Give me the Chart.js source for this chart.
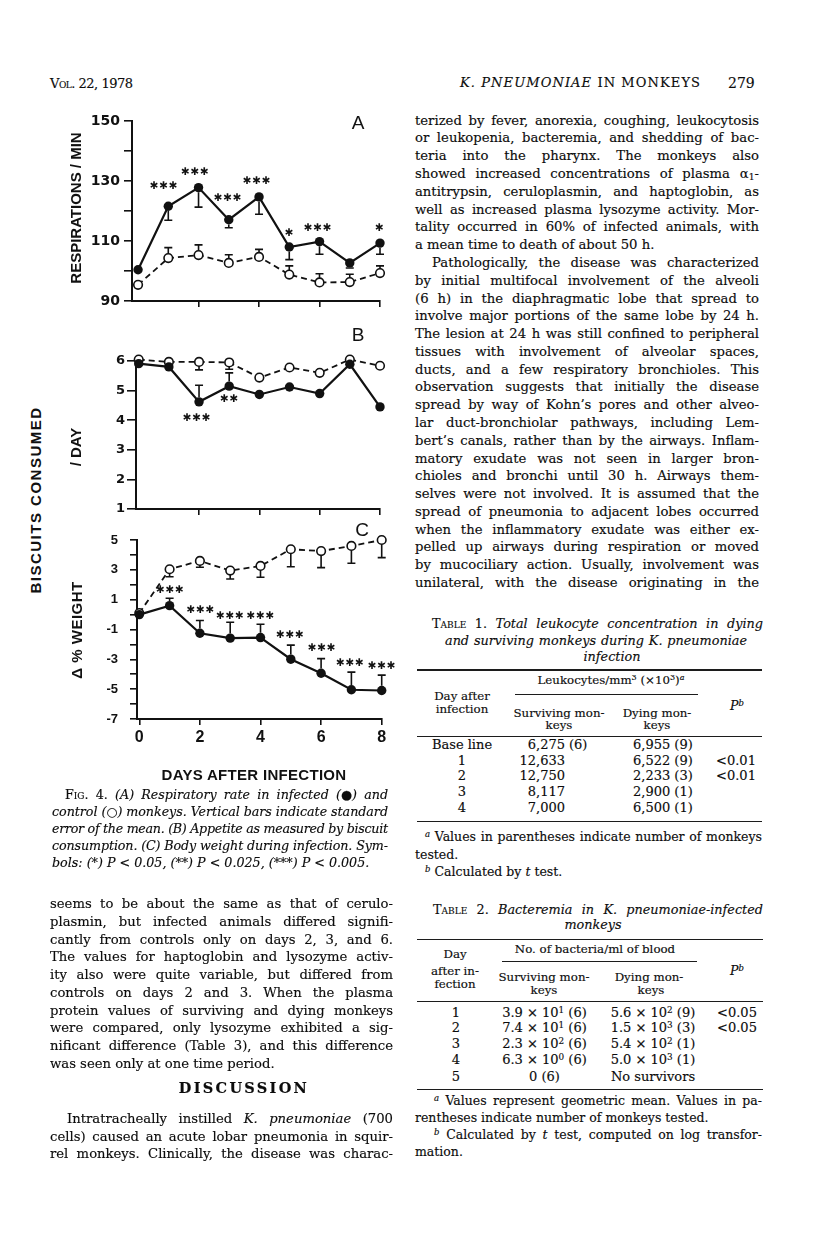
<!DOCTYPE html>
<html><head><meta charset="utf-8">
<script src="https://cdn.jsdelivr.net/npm/chart.js@4.4.1/dist/chart.umd.min.js"></script>
<style>
html,body{margin:0;padding:0;background:#fff;}
body{width:816px;height:1253px;position:relative;overflow:hidden;font-family:"DejaVu Serif",serif;color:#0c0c0c;}
.t{position:absolute;white-space:nowrap;font-size:12.5px;line-height:16px;display:inline-block;-webkit-text-stroke:0.15px #0c0c0c;}
.sc{font-variant:small-caps;}
.it{font-style:italic;}
.up{font-style:normal;}
canvas{position:absolute;}
.ax{position:absolute;font-family:"Liberation Sans",Arial,sans-serif;font-weight:bold;font-size:15px;white-space:nowrap;line-height:16px;color:#111;}
.rot{transform:translate(-50%,-50%) rotate(-90deg);}
.ctr{transform:translate(-50%,-50%);}
.pl{position:absolute;font-family:"Liberation Sans",Arial,sans-serif;font-size:19px;line-height:20px;color:#111;transform:translate(-50%,-50%);}
sup{font-size:0.68em;line-height:0;vertical-align:0.5em;}
.sub{font-size:0.7em;vertical-align:-0.2em;line-height:0;}
.rule{position:absolute;background:#1c1c1c;}
</style></head><body>
<canvas id="cA" width="340" height="215" style="left:60px;top:100px"></canvas>
<canvas id="cB" width="340" height="193" style="left:60px;top:330px"></canvas>
<canvas id="cC" width="340" height="239" style="left:60px;top:520px"></canvas>

<div class="ax rot" style="left:76px;top:208px">RESPIRATIONS&nbsp;/&nbsp;MIN</div>
<div class="ax rot" style="left:36px;top:500px;letter-spacing:1.5px">BISCUITS CONSUMED</div>
<div class="ax rot" style="left:76px;top:447px">/ DAY</div>
<div class="ax rot" style="left:77px;top:630px;letter-spacing:0.5px">Δ % WEIGHT</div>
<div class="ax ctr" style="left:254px;top:775px;letter-spacing:0.3px">DAYS AFTER INFECTION</div>
<div class="pl" style="left:358px;top:123px">A</div>
<div class="pl" style="left:358px;top:335px">B</div>
<div class="pl" style="left:362px;top:530px">C</div>

<script>
// ---------- chart data ----------
const days = [0, 1, 2, 3, 4, 5, 6, 7, 8];

// Panel A: respirations / min
const respInfected    = [100.4, 121.6, 127.8, 117.1, 124.7, 108.0, 109.8, 102.7, 109.3];
const respInfectedSE  = [null, 116.9, 121.3, 114.4, 118.9, 103.8, 105.6, 101.0, 105.6];
const respControl     = [95.4, 104.3, 105.3, 102.7, 104.7, 98.8, 96.2, 96.3, 99.3];
const respControlSE   = [null, 107.8, 108.7, 105.4, 107.2, 101.7, 99.1, 98.9, 101.7];
const respStarX = [0.85, 1.88, 2.96, 3.92, 5.0, 5.94, 7.98];
const respStarY = [128.2, 133.0, 124.3, 129.9, 112.7, 114.4, 114.4];
const respStarN = [3, 3, 3, 3, 1, 3, 1];
const respTicks = [90, 100, 110, 120, 130, 140, 150];
const respLabels = [90, 110, 130, 150];

// Panel B: biscuits consumed / day
const biscInfected   = [5.91, 5.80, 4.62, 5.15, 4.87, 5.12, 4.90, 5.89, 4.45];
const biscInfectedSE = [null, null, 5.18, 5.60, null, null, null, null, null];
const biscControl    = [6.05, 5.97, 5.97, 5.95, 5.44, 5.78, 5.60, 6.05, 5.84];
const biscControlSE  = [null, null, 5.70, 5.72, null, null, null, null, null];
const biscStarX = [1.92, 3.0];
const biscStarY = [4.06, 4.70];
const biscStarN = [3, 2];
const biscTicks = [1, 2, 3, 4, 5, 6];

// Panel C: delta % weight
const wtInfected   = [0.0, 0.6, -1.25, -1.58, -1.54, -2.99, -3.93, -5.04, -5.09];
const wtInfectedSE = [null, 1.09, -0.40, -0.51, -0.65, -2.05, -2.95, -3.86, -4.06];
const wtControl    = [0.1, 3.04, 3.60, 2.95, 3.26, 4.38, 4.26, 4.60, 5.00];
const wtControlSE  = [null, 2.54, 3.17, 2.39, 2.50, 3.21, 3.15, 3.44, 3.82];
const wtStarX = [1.01, 2.02, 2.99, 4.0, 4.97, 6.02, 6.95, 8.0];
const wtStarY = [1.65, 0.27, -0.09, -0.09, -1.40, -2.25, -3.26, -3.48];
const wtStarN = [3, 3, 3, 3, 3, 3, 3, 3];
const wtTicks = [-7, -6, -5, -4, -3, -2, -1, 0, 1, 2, 3, 4, 5];
const wtLabels = [-7, -5, -3, -1, 1, 3, 5];

const dayTicksTop = [2, 4, 6, 8];
const dayTicksBottom = [0, 2, 4, 6, 8];

// ---------- chart drawing ----------
Chart.defaults.font.family = '"DejaVu Sans", sans-serif';
const INK = '#111';

function extras(series, stars) {
  return {
    id: 'extras',
    afterDatasetsDraw(chart) {
      const ctx = chart.ctx, x = chart.scales.x, y = chart.scales.y;
      ctx.save();
      ctx.strokeStyle = INK; ctx.lineWidth = 1.6;
      series.forEach(s => {
        s.se.forEach((end, i) => {
          if (end == null) return;
          const px = x.getPixelForValue(days[i]);
          const p0 = y.getPixelForValue(s.v[i]);
          const p1 = y.getPixelForValue(end);
          const dir = Math.sign(p1 - p0);
          ctx.beginPath();
          ctx.moveTo(px, p0 + dir * s.r);
          ctx.lineTo(px, p1);
          ctx.moveTo(px - 4, p1);
          ctx.lineTo(px + 4, p1);
          ctx.stroke();
        });
      });
      ctx.fillStyle = INK;
      ctx.font = '10.5px "DejaVu Sans"';
      ctx.textAlign = 'center';
      ctx.textBaseline = 'middle';
      stars.x.forEach((sx, i) => {
        const cx = x.getPixelForValue(sx), cy = y.getPixelForValue(stars.y[i]);
        const n = stars.n[i];
        for (let k = 0; k < n; k++) ctx.fillText('\u2731', cx + (k - (n - 1) / 2) * 9.5, cy);
      });
      ctx.restore();
    }
  };
}

function panel(id, c) {
  const pts = arr => days.map((d, i) => ({ x: d, y: arr[i] }));
  return new Chart(document.getElementById(id), {
    type: 'line',
    data: {
      datasets: [
        { data: pts(c.inf), borderColor: INK, borderWidth: 2.2, pointRadius: 4.7,
          pointBackgroundColor: INK, pointBorderColor: INK, pointBorderWidth: 0, clip: false, tension: 0 },
        { data: pts(c.ctl), borderColor: INK, borderWidth: 1.8, borderDash: [6, 4], pointRadius: 4.3,
          pointBackgroundColor: '#fff', pointBorderColor: INK, pointBorderWidth: 1.6, clip: false, tension: 0 }
      ]
    },
    options: {
      responsive: false, animation: false, devicePixelRatio: 1, events: [],
      layout: { padding: c.pad },
      plugins: { legend: { display: false }, tooltip: { enabled: false } },
      scales: {
        x: {
          type: 'linear', min: c.xmin, max: 8,
          afterBuildTicks: s => { s.ticks = c.xt.map(v => ({ value: v })); },
          afterFit: s => { s.height = c.xh; },
          grid: { drawOnChartArea: false, drawTicks: true, tickLength: 6, color: INK, lineWidth: 1.6 },
          border: { display: true, color: INK, width: 2 },
          ticks: { display: c.xlab, autoSkip: false, maxRotation: 0, padding: 3, color: INK,
                   font: { family: '"Liberation Sans", Arial, sans-serif', size: 16, weight: 'bold' } }
        },
        y: {
          type: 'linear', min: c.ymin, max: c.ymax,
          afterBuildTicks: s => { s.ticks = c.yt.map(v => ({ value: v })); },
          afterFit: s => { s.width = c.yw; },
          grid: { drawOnChartArea: false, drawTicks: true, tickLength: c.ytl, color: INK, lineWidth: 1.6 },
          border: { display: true, color: INK, width: 2 },
          ticks: { autoSkip: false, padding: c.ypad, color: INK, font: c.yfont,
                   callback: v => (c.yl.includes(v) ? String(v) : '') }
        }
      }
    },
    plugins: [extras(
      [{ v: c.inf, se: c.infSE, r: 4.7 }, { v: c.ctl, se: c.ctlSE, r: 4.3 }],
      c.stars)]
  });
}

panel('cA', {
  inf: respInfected, infSE: respInfectedSE, ctl: respControl, ctlSE: respControlSE,
  stars: { x: respStarX, y: respStarY, n: respStarN },
  pad: { left: 0, right: 20, top: 21, bottom: 0 }, xmin: -0.2, xt: dayTicksTop, xh: 14, xlab: false,
  ymin: 90, ymax: 150, yt: respTicks, yl: respLabels, yw: 72, ytl: 8, ypad: 4,
  yfont: { family: '"DejaVu Sans", sans-serif', size: 14, weight: 'bold' }
});
panel('cB', {
  inf: biscInfected, infSE: biscInfectedSE, ctl: biscControl, ctlSE: biscControlSE,
  stars: { x: biscStarX, y: biscStarY, n: biscStarN },
  pad: { left: 0, right: 20, top: 31, bottom: 0 }, xmin: -0.09, xt: dayTicksTop, xh: 14, xlab: false,
  ymin: 1, ymax: 6, yt: biscTicks, yl: biscTicks, yw: 76, ytl: 9, ypad: 2,
  yfont: { family: '"DejaVu Sans", sans-serif', size: 13, weight: 'bold' }
});
panel('cC', {
  inf: wtInfected, infSE: wtInfectedSE, ctl: wtControl, ctlSE: wtControlSE,
  stars: { x: wtStarX, y: wtStarY, n: wtStarN },
  pad: { left: 0, right: 18.3, top: 20, bottom: 0 }, xmin: -0.076, xt: dayTicksBottom, xh: 40, xlab: true,
  ymin: -7, ymax: 5, yt: wtTicks, yl: wtLabels, yw: 77, ytl: 7, ypad: 12,
  yfont: { family: '"Liberation Sans", Arial, sans-serif', size: 13, weight: 'bold' }
});

// ---------- page text ----------
function T(html, x, y, o) {
  o = o || {};
  const d = document.createElement('div');
  d.className = 't' + (o.cls ? ' ' + o.cls : '');
  d.innerHTML = html;
  if (o.size) d.style.fontSize = o.size + 'px';
  d.style.top = (y - 9) + 'px';
  d.style.left = '0px';
  document.body.appendChild(d);
  const w = d.getBoundingClientRect().width;
  if (o.w) {
    const txt = d.textContent.replace(/\s+$/, '');
    const sp = (txt.match(/ /g) || []).length;
    const diff = o.w - w;
    if (diff < 0 || sp === 0 || o.ls) d.style.letterSpacing = (diff / Math.max(1, txt.length - 1)) + 'px';
    else d.style.wordSpacing = (diff / sp) + 'px';
    d.style.left = x + 'px';
  } else if (o.c) d.style.left = (x - w / 2) + 'px';
  else if (o.r) d.style.left = (x - w) + 'px';
  else d.style.left = x + 'px';
  return d;
}
function column(lines, x, w, y0, pitch, ind, cls, size) {
  lines.forEach((s, i) => {
    const indent = s.startsWith('>'); if (indent) s = s.slice(1);
    const last = s.endsWith('|'); if (last) s = s.slice(0, -1);
    const xx = x + (indent ? ind : 0);
    T(s, xx, y0 + i * pitch, last ? { cls, size } : { w: w - (indent ? ind : 0), cls, size });
  });
}
function rule(x1, x2, y, th) {
  const d = document.createElement('div'); d.className = 'rule';
  d.style.left = x1 + 'px'; d.style.width = (x2 - x1) + 'px';
  d.style.top = (y - th / 2) + 'px'; d.style.height = th + 'px';
  document.body.appendChild(d);
}

// running heads
T('<span class="sc">Vol.</span> 22, 1978', 50, 85, { w: 83, ls: true, size: 13 });
T('<i>K. PNEUMONIAE</i> IN MONKEYS', 460, 84, { w: 240, ls: true, size: 13 });
T('279', 728, 84, { size: 14 });

// right column
column([
  'terized by fever, anorexia, coughing, leukocytosis',
  'or leukopenia, bacteremia, and shedding of bac-',
  'teria into the pharynx. The monkeys also',
  'showed increased concentrations of plasma α<span class="sub">1</span>-',
  'antitrypsin, ceruloplasmin, and haptoglobin, as',
  'well as increased plasma lysozyme activity. Mor-',
  'tality occurred in 60% of infected animals, with',
  'a mean time to death of about 50 h.|',
  '>Pathologically, the disease was characterized',
  'by initial multifocal involvement of the alveoli',
  '(6 h) in the diaphragmatic lobe that spread to',
  'involve major portions of the same lobe by 24 h.',
  'The lesion at 24 h was still confined to peripheral',
  'tissues with involvement of alveolar spaces,',
  'ducts, and a few respiratory bronchioles. This',
  'observation suggests that initially the disease',
  'spread by way of Kohn’s pores and other alveo-',
  'lar duct-bronchiolar pathways, including Lem-',
  'bert’s canals, rather than by the airways. Inflam-',
  'matory exudate was not seen in larger bron-',
  'chioles and bronchi until 30 h. Airways them-',
  'selves were not involved. It is assumed that the',
  'spread of pneumonia to adjacent lobes occurred',
  'when the inflammatory exudate was either ex-',
  'pelled up airways during respiration or moved',
  'by mucociliary action. Usually, involvement was',
  'unilateral, with the disease originating in the'
], 415, 344, 121.7, 17.78, 17, '', 13.2);

// figure caption
column([
  '><span class="up"><span class="sc">Fig.</span> 4.</span> (A) Respiratory rate in infected (<span class="up">●</span>) and',
  'control (<span class="up">○</span>) monkeys. Vertical bars indicate standard',
  'error of the mean. (B) Appetite as measured by biscuit',
  'consumption. (C) Body weight during infection. Sym-',
  'bols: (*) P &lt; 0.05, (**) P &lt; 0.025, (***) P &lt; 0.005.|'
], 52, 336, 795.5, 17.2, 13, 'it', 12.7);

// left column body
column([
  'seems to be about the same as that of cerulo-',
  'plasmin, but infected animals differed signifi-',
  'cantly from controls only on days 2, 3, and 6.',
  'The values for haptoglobin and lysozyme activ-',
  'ity also were quite variable, but differed from',
  'controls on days 2 and 3. When the plasma',
  'protein values of surviving and dying monkeys',
  'were compared, only lysozyme exhibited a sig-',
  'nificant difference (Table 3), and this difference',
  'was seen only at one time period.|'
], 50, 343, 905, 17.78, 17, '', 13.2);
const dh = T('<b>DISCUSSION</b>', 244, 1089.3, { c: true, size: 14.5 });
dh.style.letterSpacing = '2.3px';
dh.style.left = (244 - dh.getBoundingClientRect().width / 2) + 'px';
column([
  '>Intratracheally instilled <i>K. pneumoniae</i> (700',
  'cells) caused an acute lobar pneumonia in squir-',
  'rel monkeys. Clinically, the disease was charac-'
], 50, 343, 1120, 17.6, 17, '', 13.2);

// Table 1
T('<span class="sc">Table</span> 1. <i>Total leukocyte concentration in dying</i>', 432, 625, { w: 331, size: 12.8 });
T('<i>and surviving monkeys during K. pneumoniae</i>', 445, 641.7, { w: 302, size: 12.8 });
T('<i>infection</i>', 612, 658.3, { c: true, size: 12.8 });
rule(417, 762, 670, 1.5);
T('Leukocytes/mm<sup>3</sup> (×10<sup>3</sup>)<sup><i>a</i></sup>', 611, 681, { c: true, size: 11.8 });
rule(515, 698, 694, 1);
T('Day after', 462, 697, { c: true, size: 11.8 });
T('infection', 462, 710, { c: true, size: 11.8 });
T('Surviving mon-', 559, 714, { c: true, size: 11.8 });
T('keys', 559, 726, { c: true, size: 11.8 });
T('Dying mon-', 657, 714, { c: true, size: 11.8 });
T('keys', 657, 726, { c: true, size: 11.8 });
T('<i>P</i><sup><i>b</i></sup>', 737, 707, { c: true, size: 12.5 });
rule(417, 762, 736, 1);
const t1y = [745.7, 761.7, 777.3, 793.3, 809.3];
['Base line', '1', '2', '3', '4'].forEach((s, i) => T(s, 462, t1y[i], { c: true, size: 13 }));
['6,275', '12,633', '12,750', '8,117', '7,000'].forEach((s, i) => T(s, 565, t1y[i], { r: true, size: 13 }));
T('(6)', 569, t1y[0], { size: 13 });
['6,955 (9)', '6,522 (9)', '2,233 (3)', '2,900 (1)', '6,500 (1)'].forEach((s, i) => T(s, 633, t1y[i], { size: 13 }));
T('&lt;0.01', 736, t1y[1], { c: true, size: 13 });
T('&lt;0.01', 736, t1y[2], { c: true, size: 13 });
rule(417, 762, 821.7, 1.5);
T('<sup><i>a</i></sup> Values in parentheses indicate number of monkeys', 425, 838, { w: 337, size: 12.5 });
T('tested.', 415, 855.7, { size: 12.5 });
T('<sup><i>b</i></sup> Calculated by <i>t</i> test.', 425, 873, { size: 12.5 });

// Table 2
T('<span class="sc">Table</span> 2. <i>Bacteremia in K. pneumoniae-infected</i>', 433, 910.7, { w: 330, size: 12.8 });
T('<i>monkeys</i>', 593, 926.3, { c: true, size: 12.8 });
rule(417, 763, 939.3, 1.5);
T('No. of bacteria/ml of blood', 595, 950, { c: true, size: 11.8 });
rule(502, 697, 961, 1);
T('Day', 455, 955, { c: true, size: 11.8 });
T('after in-', 455, 971.7, { c: true, size: 11.8 });
T('fection', 455, 984.5, { c: true, size: 11.8 });
T('Surviving mon-', 544, 978.3, { c: true, size: 11.8 });
T('keys', 544, 990.7, { c: true, size: 11.8 });
T('Dying mon-', 649, 978.3, { c: true, size: 11.8 });
T('keys', 651, 990.7, { c: true, size: 11.8 });
T('<i>P</i><sup><i>b</i></sup>', 737, 971.7, { c: true, size: 12.5 });
rule(417, 763, 1001.7, 1);
const t2y = [1014, 1029.3, 1045, 1061, 1077.7];
['1', '2', '3', '4', '5'].forEach((s, i) => T(s, 456, t2y[i], { c: true, size: 13 }));
['3.9 × 10<sup>1</sup> (6)', '7.4 × 10<sup>1</sup> (6)', '2.3 × 10<sup>2</sup> (6)', '6.3 × 10<sup>0</sup> (6)', '0 (6)']
  .forEach((s, i) => T(s, 544.5, t2y[i], { c: true, size: 13 }));
['5.6 × 10<sup>2</sup> (9)', '1.5 × 10<sup>3</sup> (3)', '5.4 × 10<sup>2</sup> (1)', '5.0 × 10<sup>3</sup> (1)', 'No survivors']
  .forEach((s, i) => T(s, 653, t2y[i], { c: true, size: 13 }));
T('&lt;0.05', 737, t2y[0], { c: true, size: 13 });
T('&lt;0.05', 737, t2y[1], { c: true, size: 13 });
rule(417, 763, 1089.3, 1.5);
T('<sup><i>a</i></sup> Values represent geometric mean. Values in pa-', 434, 1101.7, { w: 328, size: 12.5 });
T('rentheses indicate number of monkeys tested.', 415, 1118.6, { size: 12.5 });
T('<sup><i>b</i></sup> Calculated by <i>t</i> test, computed on log transfor-', 434, 1136, { w: 328, size: 12.5 });
T('mation.', 415, 1153, { size: 12.5 });
</script>
</body></html>
